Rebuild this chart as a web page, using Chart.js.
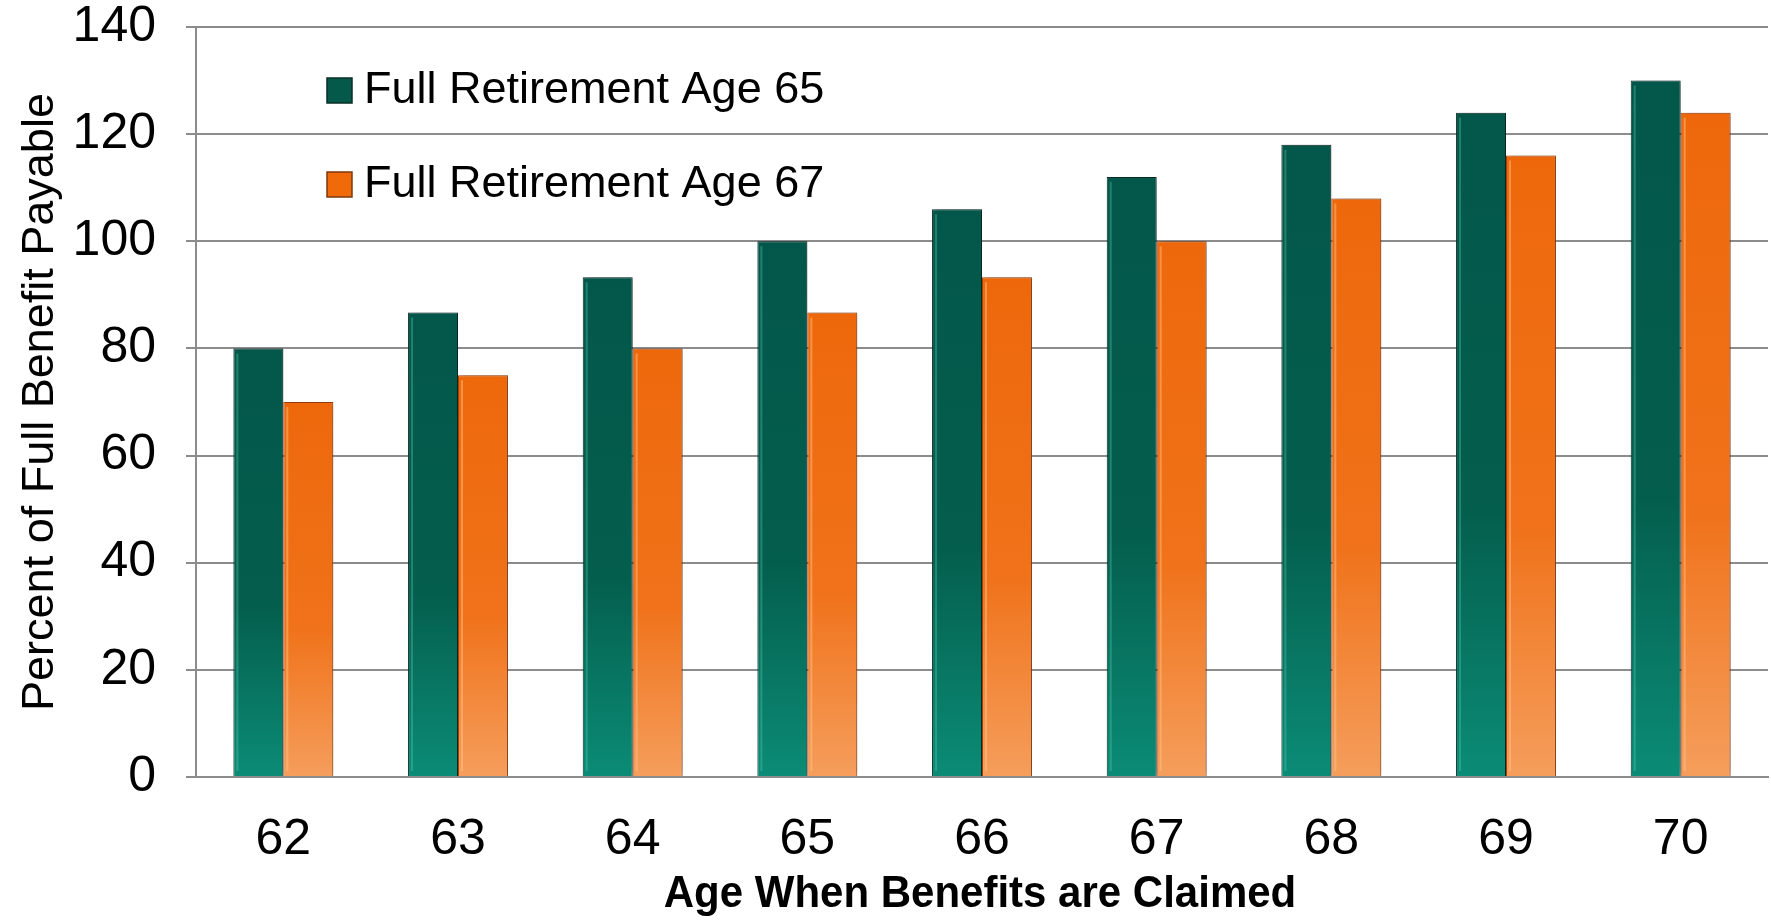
<!DOCTYPE html>
<html>
<head>
<meta charset="utf-8">
<script src="https://cdn.jsdelivr.net/npm/chart.js@4"></script>
<style>
  html, body { margin: 0; padding: 0; background: #fff; }
  #wrap { width: 1771px; height: 921px; }
</style>
</head>
<body>
<div id="wrap"><canvas id="myChart" width="1771" height="921"></canvas></div>
<script>
const ages = ["62", "63", "64", "65", "66", "67", "68", "69", "70"];
const fra65 = [80, 86.7, 93.3, 100, 106, 112, 118, 124, 130];
const fra67 = [70, 75, 80, 86.7, 93.3, 100, 108, 116, 124];
const seriesNames = ["Full Retirement Age 65", "Full Retirement Age 67"];
const yTicks = [0, 20, 40, 60, 80, 100, 120, 140];
const xTitle = "Age When Benefits are Claimed";
const yTitle = "Percent of Full Benefit Payable";

const sans = "'Liberation Sans', Arial, sans-serif";
const tickFont = { family: sans, size: 50, lineHeight: 1 };

// per-bar vertical gradient, dark at the top, lighter at the base
function barGrad(stops) {
  return (c) => {
    const chart = c.chart;
    const area = chart.chartArea;
    if (!area || c.parsed == null) return stops[0];
    const top = chart.scales.y.getPixelForValue(c.parsed.y);
    const g = chart.ctx.createLinearGradient(0, top, 0, area.bottom);
    g.addColorStop(0, stops[0]);
    g.addColorStop(0.6, stops[1]);
    g.addColorStop(1, stops[2]);
    return g;
  };
}

const shadowPlugin = {
  id: "barShadow",
  beforeDatasetDraw(chart) {
    const c = chart.ctx;
    c.save();
    c.shadowColor = "rgba(0,0,0,0.3)";
    c.shadowBlur = 6;
    c.shadowOffsetX = 3;
    c.shadowOffsetY = 0;
  },
  afterDatasetDraw(chart, args) {
    chart.ctx.restore();
    // thin glossy strip along the left edge of each bar
    const c = chart.ctx;
    const hl = ["rgba(90,210,180,0.35)", "rgba(255,200,140,0.45)"];
    c.save();
    c.strokeStyle = hl[args.index];
    c.lineWidth = 2;
    args.meta.data.forEach((bar) => {
      const left = bar.x - bar.width / 2;
      c.beginPath();
      c.moveTo(left + 4, bar.y + 5);
      c.lineTo(left + 4, bar.base - 5);
      c.stroke();
    });
    c.restore();
  }
};

// legend inside the plot, top-left
const insideLegend = {
  id: "insideLegend",
  afterDraw(chart) {
    const c = chart.ctx;
    const area = chart.chartArea;
    const x = area.left + 131;
    const ys = [area.top + 63, area.top + 157];
    const fills = ["#04594a", "#f06a0a"];
    const edges = ["#0a2e26", "#7a3a10"];
    c.save();
    c.font = "45px " + sans;
    c.textBaseline = "middle";
    chart.data.datasets.forEach((ds, i) => {
      c.fillStyle = fills[i];
      c.fillRect(x, ys[i] - 12, 25, 25);
      c.strokeStyle = edges[i];
      c.lineWidth = 1.5;
      c.strokeRect(x, ys[i] - 12, 25, 25);
      c.fillStyle = "#000";
      c.fillText(ds.label, x + 37, ys[i] + 1);
    });
    c.restore();
  }
};

// bold x axis title near the bottom edge
const xTitlePlugin = {
  id: "xTitle",
  afterDraw(chart) {
    const c = chart.ctx;
    const area = chart.chartArea;
    const cx = (area.left + area.right) / 2;
    c.save();
    c.font = "bold 42px " + sans;
    c.textAlign = "center";
    c.textBaseline = "alphabetic";
    c.fillStyle = "#000";
    c.translate(cx - 2, 907);
    c.scale(1.0, 1.05);
    c.fillText(xTitle, 0, 0);
    c.restore();
  }
};

const ctx = document.getElementById("myChart");
new Chart(ctx, {
  type: "bar",
  data: {
    labels: ages,
    datasets: [
      {
        label: seriesNames[0],
        data: fra65,
        backgroundColor: barGrad(["#03574a", "#045e4d", "#0b8c76"]),
        borderColor: "#0b3029",
        borderWidth: 1,
        borderSkipped: "bottom"
      },
      {
        label: seriesNames[1],
        data: fra67,
        backgroundColor: barGrad(["#ee680b", "#f0721a", "#f59e5c"]),
        borderColor: "#a9460f",
        borderWidth: 1,
        borderSkipped: "bottom"
      }
    ]
  },
  options: {
    responsive: false,
    animation: false,
    devicePixelRatio: 1,
    layout: { padding: { top: 27, right: 3, left: 0, bottom: 0 } },
    datasets: { bar: { categoryPercentage: 0.572, barPercentage: 1 } },
    plugins: {
      legend: { display: false },
      tooltip: { enabled: false }
    },
    scales: {
      x: {
        grid: { display: false, drawTicks: false },
        border: { display: true, color: "#8c8c8c", width: 2 },
        ticks: { color: "#000", font: tickFont, padding: 38 },
        afterFit(axis) {
          axis.height = 144;
          axis.paddingLeft = 0;
          axis.paddingRight = 0;
        }
      },
      y: {
        min: 0,
        max: 140,
        afterBuildTicks(axis) { axis.ticks = yTicks.map((v) => ({ value: v })); },
        grid: { color: "#8c8c8c", lineWidth: 2, tickLength: 10, drawTicks: true },
        border: { display: true, color: "#8c8c8c", width: 2 },
        ticks: { color: "#000", font: tickFont, padding: 30 },
        title: {
          display: true,
          text: yTitle,
          color: "#000",
          font: { family: sans, size: 45, lineHeight: 1 },
          padding: { top: 18, bottom: 0 }
        },
        afterFit(axis) {
          axis.width = 196;
          axis.paddingTop = 0;
          axis.paddingBottom = 0;
        }
      }
    }
  },
  plugins: [shadowPlugin, insideLegend, xTitlePlugin]
});
</script>
</body>
</html>
